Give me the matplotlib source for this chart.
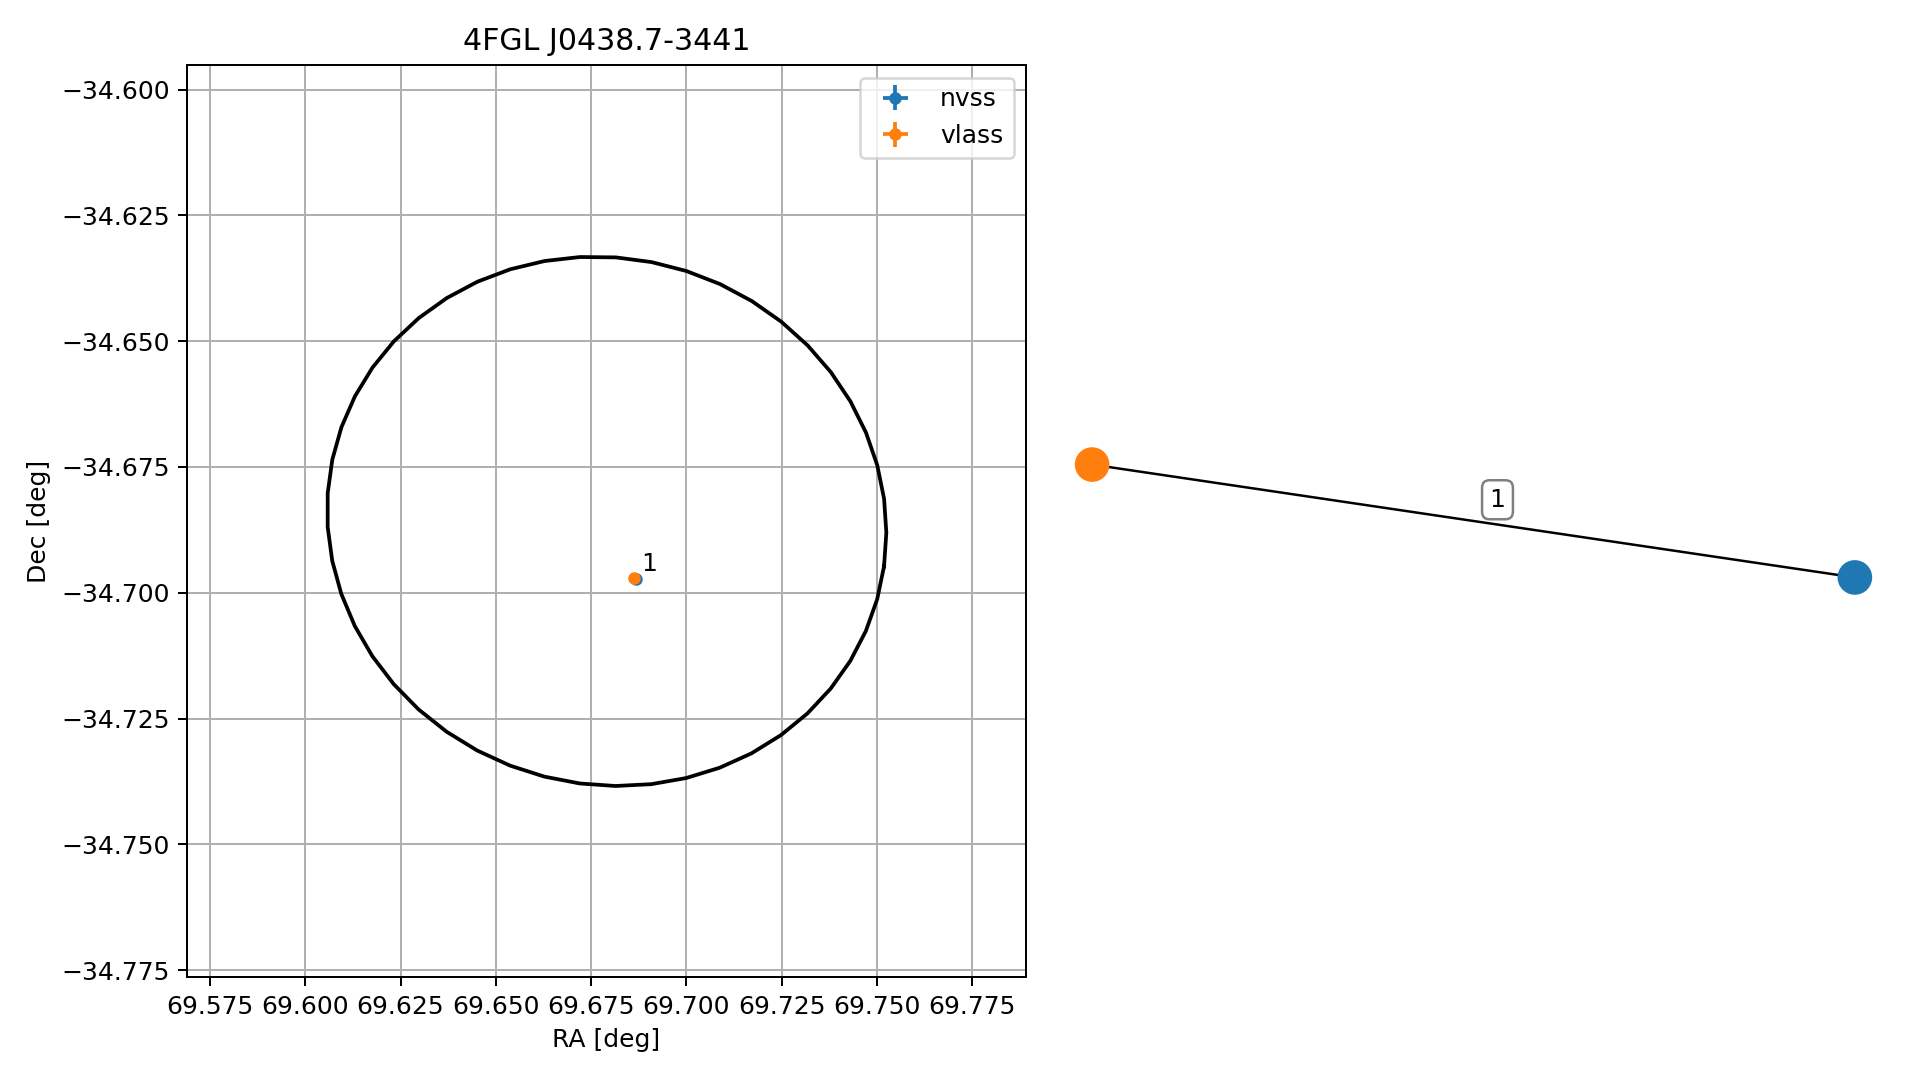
import numpy as np
import matplotlib
matplotlib.use("Agg")
import matplotlib.pyplot as plt
from matplotlib.ticker import MultipleLocator, ScalarFormatter

# ---- data ----
title = "4FGL J0438.7-3441"
survey_names = ["nvss", "vlass"]
src_ra = [69.6869, 69.6862]
src_dec = [-34.6973, -34.6971]
src_ra_err = [0.0003, 0.00005]
src_dec_err = [0.0003, 0.00005]
match_labels = ["1"]

# Fermi 95% error ellipse (sky-projected, degrees)
ell_ra = 69.6791
ell_dec = -34.6858
ell_major = 0.0605
ell_minor = 0.0524
ell_angle_deg = -8.5
ell_npts = 50

# graph (spring layout positions, rescaled)
node_names = ["vlass", "nvss"]
node_x = [-1.0, 1.0]
node_y = [0.148, -0.148]
edge_label = "1"

colors = {"nvss": "#1f77b4", "vlass": "#ff7f0e"}

fig = plt.figure(figsize=(1919 / 180, 1080 / 180), dpi=180)
ax = fig.add_axes([187 / 1919, 1 - 977 / 1080, 839 / 1919, 912 / 1080])
ax2 = fig.add_axes([1054 / 1919, 1 - 977 / 1080, 839 / 1919, 912 / 1080])

# ellipse
t = np.linspace(0, 2 * np.pi, ell_npts)
th = np.deg2rad(ell_angle_deg)
xs = ell_major * np.cos(t) * np.cos(th) - ell_minor * np.sin(t) * np.sin(th)
ys = ell_major * np.cos(t) * np.sin(th) + ell_minor * np.sin(t) * np.cos(th)
ax.plot(ell_ra + xs / np.cos(np.deg2rad(ell_dec)), ell_dec + ys, color="black", lw=1.5)

for i, name in enumerate(survey_names):
    ax.errorbar(src_ra[i], src_dec[i], xerr=src_ra_err[i], yerr=src_dec_err[i],
                fmt="o", markersize=4, color=colors[name], label=name)

ax.annotate(match_labels[0], (src_ra[1], src_dec[1]), xytext=(3, 3),
            textcoords="offset points", fontsize=10)

ax.set_xlim(69.56896, 69.78912)
ax.set_ylim(-34.77634, -34.59513)
ax.xaxis.set_major_locator(MultipleLocator(0.025))
ax.yaxis.set_major_locator(MultipleLocator(0.025))
for axis in (ax.xaxis, ax.yaxis):
    fmt = ScalarFormatter(useOffset=False)
    axis.set_major_formatter(fmt)
ax.grid(True)
ax.set_xlabel("RA [deg]")
ax.set_ylabel("Dec [deg]")
ax.set_title(title, fontsize=12)
ax.legend(loc="upper right")

# graph panel
ax2.plot(node_x, node_y, color="black", lw=1.0, zorder=1)
ax2.scatter(node_x, node_y, s=165, c=[colors[n] for n in node_names], zorder=2)
mx = np.mean(node_x)
my = np.mean(node_y)
ax2.annotate(edge_label, (mx, my), xytext=(9.6, 8.5), textcoords="offset points",
             ha="center", va="center", fontsize=10,
             bbox=dict(boxstyle="round", ec=(0.5, 0.5, 0.5), fc=(1.0, 1.0, 1.0)))
ax2.set_xlim(-1.1, 1.1)
ax2.set_aspect("equal", adjustable="datalim")
ax2.axis("off")

fig.savefig("out.png", dpi=180)
